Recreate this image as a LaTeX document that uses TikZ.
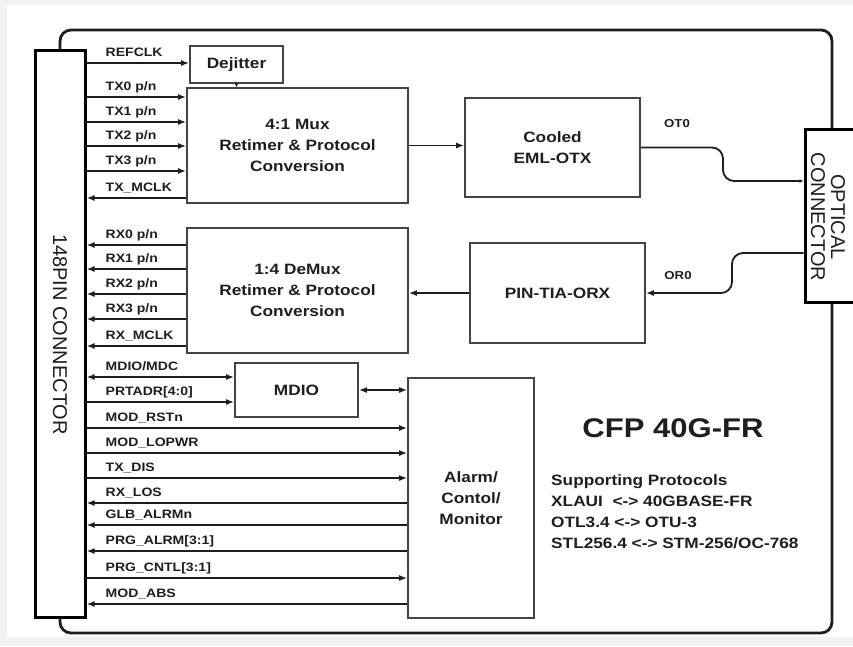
\documentclass[tikz,border=0pt]{standalone}
\usepackage{fontspec}
\newfontfamily\widesans[FakeStretch=1.15]{Liberation Sans}
\newfontfamily\plainsans{Liberation Sans}
\definecolor{InkDark}{HTML}{1E1E1E}
\definecolor{BoxGray}{HTML}{444444}
\definecolor{PageGray}{HTML}{F3F2F0}
\usetikzlibrary{arrows.meta, positioning, calc}

\tikzset{
   blockbox/.style={draw=BoxGray, line width=1.6pt, fill=white, align=center, inner sep=0pt,
      text=InkDark, font=\widesans\bfseries\fontsize{15}{21}\selectfont},
   sigline/.style={draw=InkDark, line width=1.8pt},
   sigin/.style={-{Latex[length=8pt,width=6pt]}},
   sigout/.style={{Latex[length=8pt,width=6pt]}-},
   sigboth/.style={{Latex[length=8pt,width=6pt]}-{Latex[length=8pt,width=6pt]}},
   siglabel/.style={anchor=base west, inner sep=0pt, text=InkDark,
      font=\widesans\bfseries\fontsize{12.2}{14}\selectfont},
   connbox/.style={draw=black, line width=3pt, fill=white, inner sep=0pt},
   conntext/.style={rotate=-90, align=center, text=InkDark,
      font=\plainsans\fontsize{20}{20}\selectfont}
}

\begin{document}
\begin{tikzpicture}[x=1pt, y=-1pt]
   \fill[PageGray] (0,0) rectangle (853,646);
   \fill[white] (7,5) rectangle (853,637);
   \useasboundingbox (0,0) rectangle (853,646);

   % module outline
   \draw[InkDark, line width=2.8pt, rounded corners=11pt] (60,30) rectangle (832,633);

   % connectors
   \node[connbox, minimum width=50pt, minimum height=567pt] (conn148) at (60,333.5) {};
   \node[conntext] (conn148txt) at (60,334.5) {148PIN CONNECTOR};
   \node[connbox, minimum width=60pt, minimum height=173pt] (optc) at (835,215.5) {};
   \node[conntext] (optctxt) at (828,217) {OPTICAL\\CONNECTOR};

   % blocks
   \node[blockbox, minimum width=93pt, minimum height=37pt] (dejit) at (236.5,64.5) {Dejitter};
   \node[blockbox, minimum width=221pt, minimum height=115pt] (mux) at (297.5,145.5)
      {4:1 Mux\\Retimer \& Protocol\\Conversion};
   \node[blockbox, minimum width=175pt, minimum height=99pt] (eml) at (552.5,147.5) {Cooled\\EML-OTX};
   \node[blockbox, minimum width=221pt, minimum height=125pt] (demux) at (297.5,290.5)
      {1:4 DeMux\\Retimer \& Protocol\\Conversion};
   \node[blockbox, minimum width=175pt, minimum height=100pt] (orx) at (557.5,293) {PIN-TIA-ORX};
   \node[blockbox, minimum width=123pt, minimum height=54pt] (mdio) at (296.5,390) {MDIO};
   \node[blockbox, minimum width=126pt, minimum height=240pt] (alarm) at (471,498)
      {Alarm/\\Contol/\\Monitor};

   % electrical signals
   \foreach \y/\dst/\tip/\lab in {
      63/dejit/sigin/REFCLK,
      97/mux/sigin/{TX0 p/n},
      122/mux/sigin/{TX1 p/n},
      146/mux/sigin/{TX2 p/n},
      171/mux/sigin/{TX3 p/n},
      198/mux/sigout/TX\_MCLK,
      245/demux/sigout/{RX0 p/n},
      269/demux/sigout/{RX1 p/n},
      294/demux/sigout/{RX2 p/n},
      319/demux/sigout/{RX3 p/n},
      346/demux/sigout/RX\_MCLK,
      377/mdio/sigboth/{MDIO/MDC},
      402/mdio/sigin/{PRTADR[4:0]},
      428/alarm/sigin/MOD\_RSTn,
      453/alarm/sigin/MOD\_LOPWR,
      478/alarm/sigin/TX\_DIS,
      503/alarm/sigout/RX\_LOS,
      525/alarm/sigout/GLB\_ALRMn,
      551/alarm/sigout/{PRG\_ALRM[3:1]},
      578/alarm/sigin/{PRG\_CNTL[3:1]},
      604/alarm/sigout/MOD\_ABS}{
      \coordinate (s\y) at (conn148.east |- 0,\y);
      \draw[sigline, \tip] (s\y) -- (s\y -| \dst.west);
      \node[siglabel] (lab\y) at ([xshift=19pt, yshift=6.5pt]s\y) {\lab};
   }

   % internal links
   \draw[sigline, -{Latex[length=4pt,width=4pt]}] (dejit.south) -- (dejit.south |- mux.north);
   \draw[sigline, sigin] (mux.east) -- (mux.east -| eml.west);
   \draw[sigline, sigin] (orx.west) -- (orx.west -| demux.east);
   \draw[sigline, sigboth] (mdio.east) -- (mdio.east -| alarm.west);

   % optical paths
   \coordinate (otbend) at (723,181);
   \coordinate (orbend) at (732,253);
   \draw[sigline, rounded corners=11pt, -{Latex[length=4pt,width=4pt]}]
      (eml.east) -- (eml.east -| otbend) -- (otbend) -- (otbend -| optc.west);
   \draw[sigline, rounded corners=11pt, sigin]
      (orbend -| optc.west) -- (orbend) -- (orbend |- orx.east) -- (orx.east);
   \node[text=InkDark, font=\widesans\bfseries\fontsize{11.5}{13}\selectfont] (ot0) at (677,124) {OT0};
   \node[text=InkDark, font=\widesans\bfseries\fontsize{11.5}{13}\selectfont] (or0) at (678,276) {OR0};

   % title and protocols
   \node[text=InkDark, font=\widesans\bfseries\fontsize{27}{30}\selectfont] (title) at (673,428) {CFP 40G-FR};
   \node[anchor=north west, align=left, inner sep=0pt, text=InkDark,
      font=\widesans\bfseries\fontsize{15}{21}\selectfont] (protos) at (551,474)
      {Supporting Protocols\\XLAUI\ \ <-> 40GBASE-FR\\OTL3.4 <-> OTU-3\\STL256.4 <-> STM-256/OC-768};
\end{tikzpicture}
\end{document}
